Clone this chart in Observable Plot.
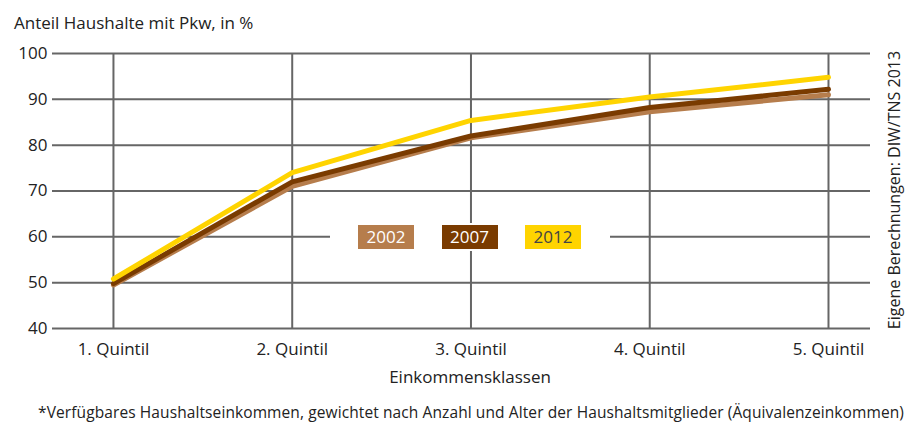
<!DOCTYPE html>
<html><head><meta charset="utf-8">
<script src="https://cdn.jsdelivr.net/npm/d3@7"></script>
<script src="https://cdn.jsdelivr.net/npm/@observablehq/plot@0.6"></script>
<style>
body{margin:0;background:#fff;font-family:"Open Sans",sans-serif;color:#222;}
#wrap{position:relative;width:906px;height:424px;overflow:hidden;}
#title{position:absolute;left:14px;top:11px;font-size:17px;}
#chart{position:absolute;left:0;top:40px;}
#legend{position:absolute;left:330px;top:223px;width:280px;height:28px;background:#fff;}
.lg{position:absolute;top:2px;width:56px;height:24px;font-size:17px;line-height:24px;text-align:center;}
#source{position:absolute;left:894px;top:190px;transform:translate(-50%,-50%) rotate(-90deg);white-space:nowrap;font-size:16px;}
#xlabel{position:absolute;left:0;width:940px;text-align:center;top:365px;font-size:17px;}
#foot{position:absolute;left:0;width:942px;text-align:center;top:401px;font-size:15.5px;letter-spacing:0.1px;}
</style></head>
<body><div id="wrap">
<div id="title">Anteil Haushalte mit Pkw, in %</div>
<div id="chart"></div>
<div id="legend"></div>
<div id="source">Eigene Berechnungen: DIW/TNS 2013</div>
<div id="xlabel">Einkommensklassen</div>
<div id="foot">*Verfügbares Haushaltseinkommen, gewichtet nach Anzahl und Alter der Haushaltsmitglieder (Äquivalenzeinkommen)</div>
</div>
<script>
const quintiles = ["1. Quintil","2. Quintil","3. Quintil","4. Quintil","5. Quintil"];
const years = ["2002","2007","2012"];
const v2002 = [49.5, 71.0, 81.6, 87.3, 91.0];
const v2007 = [49.8, 72.0, 82.0, 88.2, 92.2];
const v2012 = [50.8, 74.0, 85.4, 90.5, 94.8];
const colors = ["#b67d4c","#7a3b00","#ffd400"];
const yTicks = [40,50,60,70,80,90,100];

const series = [v2002, v2007, v2012];
const rows = [];
series.forEach((vals, s) => vals.forEach((v, i) => rows.push({year: years[s], q: i + 1, v})));

const chart = Plot.plot({
  width: 906, height: 360,
  marginLeft: 52, marginRight: 36, marginTop: 13, marginBottom: 72,
  style: {fontFamily: "Open Sans, sans-serif", fontSize: "17px", color: "#222"},
  x: {domain: [0.659, 5.235], ticks: [1,2,3,4,5], tickFormat: d => quintiles[d - 1], tickSize: 0, tickPadding: 14, label: null},
  y: {domain: [40, 100], ticks: yTicks, tickSize: 0, tickPadding: 5, label: null},
  color: {domain: years, range: colors},
  marks: [
    Plot.ruleY(yTicks, {stroke: "#666", strokeWidth: 2}),
    Plot.ruleX([1,2,3,4,5], {y1: 40, y2: 100, stroke: "#666", strokeWidth: 2}),
    Plot.line(rows, {x: "q", y: "v", z: "year", stroke: "year", strokeWidth: 5, strokeLinecap: "round", strokeLinejoin: "round"})
  ]
});
document.getElementById("chart").appendChild(chart);

const lg = document.getElementById("legend");
years.forEach((y, i) => {
  const d = document.createElement("div");
  d.className = "lg";
  d.style.left = (28 + i * 83.5) + "px";
  d.style.background = colors[i];
  d.style.color = i === 2 ? "#444" : "#fff";
  d.textContent = y;
  lg.appendChild(d);
});
</script>
</body></html>
